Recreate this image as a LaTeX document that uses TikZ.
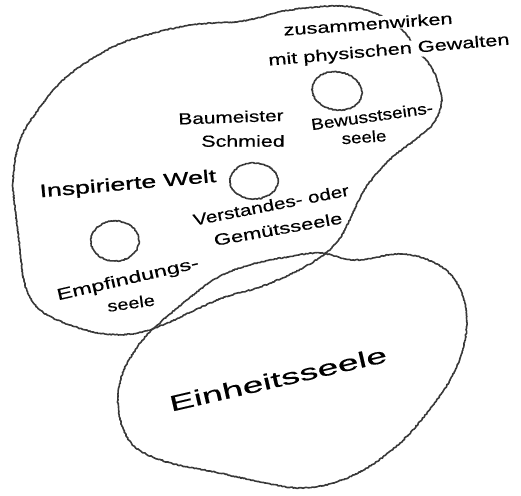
\documentclass[tikz,border=0pt]{standalone}
\usepackage{fontspec}
\setmainfont{Liberation Sans}
\usetikzlibrary{decorations.pathmorphing}
\tikzset{
  crayon/.style={draw=black!78, line width=1.6pt, line join=round, decorate,
    decoration={random steps, segment length=1.3pt, amplitude=0.55pt}},
  lbl/.style={inner sep=0pt, font=\fontsize{16}{16}\selectfont},
  big/.style={inner sep=0pt, font=\fontsize{22}{22}\selectfont},
}
\newcommand{\hs}[2]{{\addfontfeature{FakeStretch=#1,FakeBold=0.4}#2}}
\begin{document}
\begin{tikzpicture}[x=1pt,y=1pt]
\useasboundingbox (0,0) rectangle (521,-495);
% upper blob
\draw[crayon] plot[smooth cycle, tension=0.6] coordinates {
 (340,-6) (372,-12) (400,-28) (420,-53) (433,-70) (440,-90) (441,-107)
 (432,-125) (415,-140) (395,-155) (378,-172) (363,-192) (352,-215) (340,-238)
 (322,-256) (295,-272) (260,-287) (225,-297) (195,-310) (165,-324) (138,-333)
 (105,-334) (70,-325) (40,-310) (25,-285) (20,-250) (16,-215) (13,-180)
 (20,-140) (38,-110) (63,-80) (95,-57) (130,-40) (190,-25) (243,-21) (290,-10)};
% lower blob
\draw[crayon] plot[smooth cycle, tension=0.6] coordinates {
 (150,-332) (187,-300) (220,-276) (253,-264) (287,-257) (320,-253) (355,-260)
 (400,-254) (433,-262) (455,-280) (466,-310) (464,-345) (450,-380) (427,-413)
 (400,-443) (367,-468) (333,-483) (300,-488) (265,-483) (215,-472) (167,-462)
 (135,-447) (121,-423) (118,-397) (123,-372) (134,-352)};
% small ellipses
\draw[crayon, rotate around={-10:(337,-91)}] (337,-91) ellipse [x radius=25, y radius=19];
\draw[crayon] (254,-181) ellipse [x radius=24, y radius=18];
\draw[crayon] (115,-241) ellipse [x radius=24, y radius=20];
% labels
\node[lbl, rotate=4, fill=white, inner sep=1pt] (zus) at (368,-24) {\hs{1.36}{zusammenwirken}};
\node[lbl, rotate=5, fill=white, inner sep=1pt] (phy) at (389,-51) {\hs{1.36}{mit physischen Gewalten}};
\node[lbl, rotate=2] (bau) at (231,-117) {\hs{1.3}{Baumeister}};
\node[lbl] (sch) at (243,-141) {\hs{1.34}{Schmied}};
\node[lbl, rotate=8] (bew) at (372,-116) {\hs{1.19}{Bewusstseins-}};
\node[lbl, rotate=4] (bews) at (364,-137) {\hs{1.17}{seele}};
\node[lbl, rotate=5, font=\fontsize{18}{18}\selectfont] (insp) at (128,-185) {{\addfontfeature{FakeStretch=1.48,FakeBold=1.2}Inspirierte Welt}};
\node[lbl, rotate=11] (ver) at (271,-205) {\hs{1.3}{Verstandes- oder}};
\node[lbl, rotate=10] (gem) at (278,-229) {\hs{1.38}{Gemütsseele}};
\node[lbl, rotate=13] (emp) at (128,-280) {\hs{1.47}{Empfindungs-}};
\node[lbl, rotate=8] (emps) at (131,-303) {\hs{1.25}{seele}};
\node[big, rotate=13] (ein) at (278,-379) {\hs{1.7}{Einheitsseele}};
\end{tikzpicture}
\end{document}
